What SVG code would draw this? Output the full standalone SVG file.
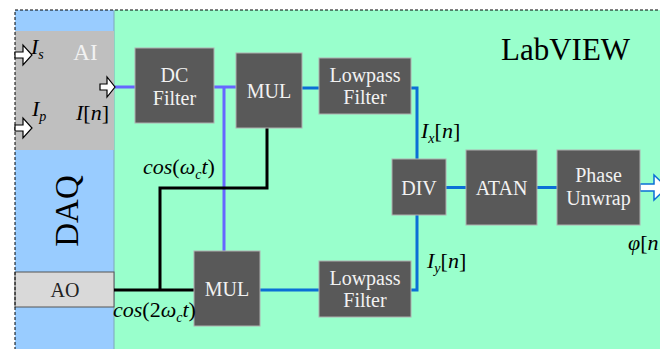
<svg xmlns="http://www.w3.org/2000/svg" width="660" height="349" viewBox="0 0 660 349">
<style>
text{font-family:'Liberation Serif','DejaVu Serif',serif}
.box{fill:#595959;stroke:#b0b0b0;stroke-width:1}
.bt{font-size:20px;fill:#f2f2f2;text-anchor:middle}
.m{font-size:22px;fill:#000}
.i{font-style:italic}
.sub{font-size:14px;font-style:italic}
.w{fill:none;stroke-width:3}
.blue{stroke:#0a6fd6}
.pur{stroke:#6666ff}
.blk{stroke:#000}
.arr{fill:#fff;stroke:#000;stroke-width:1.2}
</style>
<rect x="0" y="0" width="660" height="349" fill="#fff"/>
<g id="labview-bg">
<rect x="114" y="10" width="560" height="345" fill="#99ffcc"/>
</g>
<g id="daq">
<rect x="15" y="10" width="99" height="345" fill="#99ccff"/>
<line x1="114" y1="10" x2="114" y2="349" stroke="#7fa8b8" stroke-width="1"/>
<text transform="translate(78,211) rotate(-90)" font-size="33" text-anchor="middle" fill="#000">DAQ</text>
</g>
<g id="ai">
<rect x="15" y="31" width="99" height="119" fill="#bfbfbf"/>
<text x="85.5" y="60" font-size="23" text-anchor="middle" fill="#f2f2f2">AI</text>
</g>
<g id="ao">
<rect x="15" y="272" width="99" height="35" fill="#d9d9d9" stroke="#555" stroke-width="1"/>
<text x="65" y="297" font-size="20" text-anchor="middle" fill="#222">AO</text>
</g>
<rect x="15" y="10" width="700" height="400" fill="none" stroke="#000" stroke-width="1" stroke-dasharray="3,2"/>
<g id="connectors">
<path class="w pur" d="M115,87 H135 M214,87 H236 M224,87 V251"/>
<path class="w blk" d="M114,290 H194 M160,290 V188 H267 V128"/>
<path class="w blue" d="M302,88 H319 M411,88 H417 V159 M446,187.5 H466 M537,187.5 H557 M260,290 H319 M411,290 H417 V215"/>
<path class="arr" d="M15,52 H23 V45 L32,55 L23,65 V58 H15 Z"/>
<path class="arr" d="M15,125 H23 V118 L32,128 L23,138 V131 H15 Z"/>
<path class="arr" d="M100,84 H107 V77 L115,87 L107,97 V90 H100 Z"/>
<path d="M640,184 H654 V175 L667,187.5 L654,200 V191 H640 Z" fill="#fff" stroke="#0a6fd6" stroke-width="1.5"/>
</g>
<g id="dc-filter">
<rect class="box" x="135" y="48" width="79" height="75"/>
<text class="bt" x="174.5" y="82">DC</text>
<text class="bt" x="174.5" y="105">Filter</text>
</g>
<g id="mul-top">
<rect class="box" x="236" y="53" width="66" height="75"/>
<text class="bt" x="269" y="98">MUL</text>
</g>
<g id="lowpass-top">
<rect class="box" x="319" y="58" width="92" height="56"/>
<text class="bt" x="365" y="82">Lowpass</text>
<text class="bt" x="365" y="104">Filter</text>
</g>
<g id="mul-bottom">
<rect class="box" x="194" y="251" width="66" height="75"/>
<text class="bt" x="227" y="296">MUL</text>
</g>
<g id="lowpass-bottom">
<rect class="box" x="319" y="261" width="92" height="56"/>
<text class="bt" x="365" y="285">Lowpass</text>
<text class="bt" x="365" y="307">Filter</text>
</g>
<g id="div">
<rect class="box" x="392" y="159" width="54" height="56"/>
<text class="bt" x="419" y="195">DIV</text>
</g>
<g id="atan">
<rect class="box" x="466" y="150" width="71" height="75"/>
<text class="bt" x="501.5" y="195">ATAN</text>
</g>
<g id="phase-unwrap">
<rect class="box" x="557" y="150" width="83" height="75"/>
<text class="bt" x="598.5" y="182">Phase</text>
<text class="bt" x="598.5" y="205">Unwrap</text>
</g>
<g id="labels">
<text x="501" y="60" font-size="31" fill="#000">LabVIEW</text>
<text class="m" x="31" y="54"><tspan class="i">I</tspan><tspan class="sub" dy="5">s</tspan></text>
<text class="m" x="32" y="116"><tspan class="i">I</tspan><tspan class="sub" dy="5">p</tspan></text>
<text class="m" x="76" y="120"><tspan class="i">I</tspan>[<tspan class="i">n</tspan>]</text>
<text class="m" x="143" y="174"><tspan class="i">cos</tspan>(<tspan class="i">ω</tspan><tspan class="sub" dy="5">c</tspan><tspan class="i" dy="-5">t</tspan>)</text>
<text class="m" x="113" y="317"><tspan class="i">cos</tspan>(2<tspan class="i">ω</tspan><tspan class="sub" dy="5">c</tspan><tspan class="i" dy="-5">t</tspan>)</text>
<text class="m" x="421" y="138"><tspan class="i">I</tspan><tspan class="sub" dy="5">x</tspan><tspan dy="-5">[</tspan><tspan class="i">n</tspan>]</text>
<text class="m" x="427" y="268"><tspan class="i">I</tspan><tspan class="sub" dy="5">y</tspan><tspan dy="-5">[</tspan><tspan class="i">n</tspan>]</text>
<text class="m" x="628" y="250"><tspan class="i">φ</tspan>[<tspan class="i">n</tspan></text>
</g>
</svg>
